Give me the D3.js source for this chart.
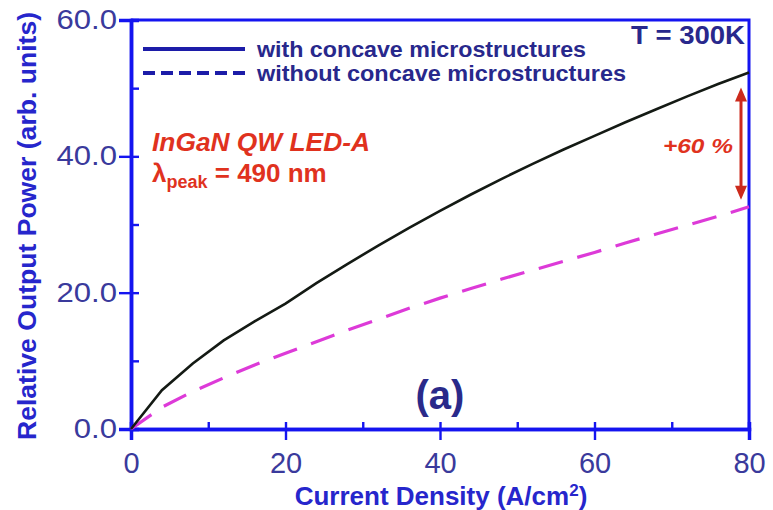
<!DOCTYPE html>
<html>
<head>
<meta charset="utf-8">
<script src="https://cdn.jsdelivr.net/npm/d3@7"></script>
<style>
  html, body { margin: 0; padding: 0; background: #ffffff; }
  svg { display: block; font-family: "Liberation Sans", Arial, sans-serif; }
</style>
</head>
<body>
<svg id="chart" width="773" height="510"></svg>
<script>
// Current density (A/cm^2) sample points
const currentDensity = [0, 4, 8, 12, 16, 20, 24, 28, 32, 36, 40, 44, 48, 52, 56, 60, 64, 68, 72, 76, 80];
// Relative output power, LED with concave microstructures
const withConcave = [0, 5.7, 9.6, 13.0, 15.8, 18.4, 21.4, 24.2, 26.9, 29.5, 32.0, 34.4, 36.7, 38.9, 41.0, 43.0, 45.0, 46.9, 48.8, 50.6, 52.3];
// Relative output power, LED without concave microstructures
const withoutConcave = [0, 3.2, 5.5, 7.5, 9.4, 11.1, 12.8, 14.5, 16.1, 17.7, 19.2, 20.6, 22.0, 23.3, 24.6, 25.9, 27.3, 28.6, 29.9, 31.2, 32.6];

const xMajorTicks = [0, 20, 40, 60, 80];
const xMinorTicks = [10, 30, 50, 70];
const yMajorTicks = [0, 20, 40, 60];
const yMinorTicks = [10, 30, 50];
const seriesNames = ["with concave microstructures", "without concave microstructures"];

const svg = d3.select("#chart");
const x = d3.scaleLinear().domain([0, 80]).range([131, 749]);
const y = d3.scaleLinear().domain([0, 60]).range([429, 20]);

const axisBlue = "#1414f0";
const labelBlue = "#3a3a9c";
const titleBlue = "#2626cc";
const textNavy = "#28288c";
const red = "#e0321e";

// widen a text element horizontally by a factor, keeping it as text
function widen(sel, k) {
  sel.each(function () {
    const w = this.getComputedTextLength();
    d3.select(this).attr("textLength", w * k).attr("lengthAdjust", "spacingAndGlyphs");
  });
}

// frame (top and right edges)
svg.append("path")
  .attr("d", `M${x(0)},${y(60)}H${x(80)}V${y(0)}`)
  .attr("fill", "none").attr("stroke", axisBlue).attr("stroke-width", 3);

// x axis: outward ticks on majors, inward ticks on all
const gx = svg.append("g").attr("transform", `translate(0,${y(0)})`);
gx.call(d3.axisBottom(x).tickValues(xMajorTicks).tickSize(11).tickPadding(12).tickFormat(d3.format("d")));
const gxIn = svg.append("g").attr("transform", `translate(0,${y(0)})`);
gxIn.call(d3.axisBottom(x).tickValues(xMajorTicks.concat(xMinorTicks)).tickSize(-7).tickFormat(""));

// y axis
const gy = svg.append("g").attr("transform", `translate(${x(0)},0)`);
gy.call(d3.axisLeft(y).tickValues(yMajorTicks).tickSize(12).tickPadding(2).tickFormat(d3.format(".1f")));
const gyIn = svg.append("g").attr("transform", `translate(${x(0)},0)`);
gyIn.call(d3.axisLeft(y).tickValues(yMajorTicks.concat(yMinorTicks)).tickSize(-8).tickFormat(""));

[gx, gxIn, gy, gyIn].forEach(g => {
  g.select(".domain").attr("stroke", axisBlue).attr("stroke-width", 3.5);
  g.selectAll(".tick line").attr("stroke", axisBlue).attr("stroke-width", 2.4);
  g.selectAll(".tick text").attr("fill", labelBlue)
    .style("font-family", "'Liberation Sans', Arial, sans-serif");
});
gx.selectAll(".tick text").style("font-size", "29px");
gy.selectAll(".tick text").style("font-size", "27px").call(widen, 1.15);

// axis titles
svg.append("text")
  .attr("x", 441).attr("y", 505)
  .attr("text-anchor", "middle")
  .attr("fill", titleBlue).style("font-size", "26px").style("font-weight", "bold")
  .html('Current Density (A/cm<tspan dy="-9" font-size="17px">2</tspan><tspan dy="9">)</tspan>');

svg.append("text")
  .attr("transform", "translate(36,226) rotate(-90)")
  .attr("text-anchor", "middle")
  .attr("fill", titleBlue).style("font-size", "26px").style("font-weight", "bold")
  .attr("textLength", 428).attr("lengthAdjust", "spacingAndGlyphs")
  .text("Relative Output Power (arb. units)");

// data lines
const pts = arr => currentDensity.map((c, i) => [c, arr[i]]);
const line = d3.line().x(d => x(d[0])).y(d => y(d[1])).curve(d3.curveLinear);

svg.append("path").datum(pts(withoutConcave))
  .attr("d", line)
  .attr("fill", "none").attr("stroke", "#dd3ad8").attr("stroke-width", 3.2)
  .attr("stroke-dasharray", "25,15");

svg.append("path").datum(pts(withConcave))
  .attr("d", line)
  .attr("fill", "none").attr("stroke", "#141a14").attr("stroke-width", 2.6);

// legend
const legend = svg.append("g");
const legendWidths = [329, 369];
[0, 1].forEach(i => {
  const ly = 49 + i * 24;
  legend.append("line")
    .attr("x1", 143).attr("x2", 245).attr("y1", ly).attr("y2", ly)
    .attr("stroke", "#1c1ca8").attr("stroke-width", 4)
    .attr("stroke-dasharray", i === 1 ? "12,6" : null);
  legend.append("text")
    .attr("x", 257).attr("y", ly + 8)
    .attr("fill", textNavy).style("font-size", "22px").style("font-weight", "bold")
    .attr("textLength", legendWidths[i]).attr("lengthAdjust", "spacingAndGlyphs")
    .text(seriesNames[i]);
});

// temperature label
svg.append("text")
  .attr("x", 745).attr("y", 44).attr("text-anchor", "end")
  .attr("fill", textNavy).style("font-size", "25px").style("font-weight", "bold")
  .attr("textLength", 114).attr("lengthAdjust", "spacingAndGlyphs")
  .text("T = 300K");

// device annotations
svg.append("text")
  .attr("x", 152).attr("y", 151)
  .attr("fill", red).style("font-size", "26px").style("font-weight", "bold").style("font-style", "italic")
  .attr("textLength", 218).attr("lengthAdjust", "spacingAndGlyphs")
  .text("InGaN QW LED-A");

svg.append("text")
  .attr("x", 152).attr("y", 182)
  .attr("fill", red).style("font-size", "26px").style("font-weight", "bold")
  .html('λ<tspan dy="6" font-size="18px">peak</tspan><tspan dy="-6"> = 490 nm</tspan>');

// +60 % enhancement arrow at the highest current density
const arrowX = x(80) - 8;
const yTop = y(withConcave[withConcave.length - 1]) + 15;
const yBot = y(withoutConcave[withoutConcave.length - 1]) - 7;
svg.append("line")
  .attr("x1", arrowX).attr("x2", arrowX).attr("y1", yTop + 8).attr("y2", yBot - 8)
  .attr("stroke", "#cc2a1c").attr("stroke-width", 3);
svg.append("path")
  .attr("d", `M${arrowX},${yTop}l-6,14h12z M${arrowX},${yBot}l-6,-14h12z`)
  .attr("fill", "#cc2a1c");

svg.append("text")
  .attr("x", 733).attr("y", 153).attr("text-anchor", "end")
  .attr("fill", red).style("font-size", "21px").style("font-weight", "bold").style("font-style", "italic")
  .attr("textLength", 70).attr("lengthAdjust", "spacingAndGlyphs")
  .text("+60 %");

// panel label
svg.append("text")
  .attr("x", 440).attr("y", 409).attr("text-anchor", "middle")
  .attr("fill", "#2a2a8a").style("font-size", "40px").style("font-weight", "bold")
  .text("(a)");
</script>
</body>
</html>
